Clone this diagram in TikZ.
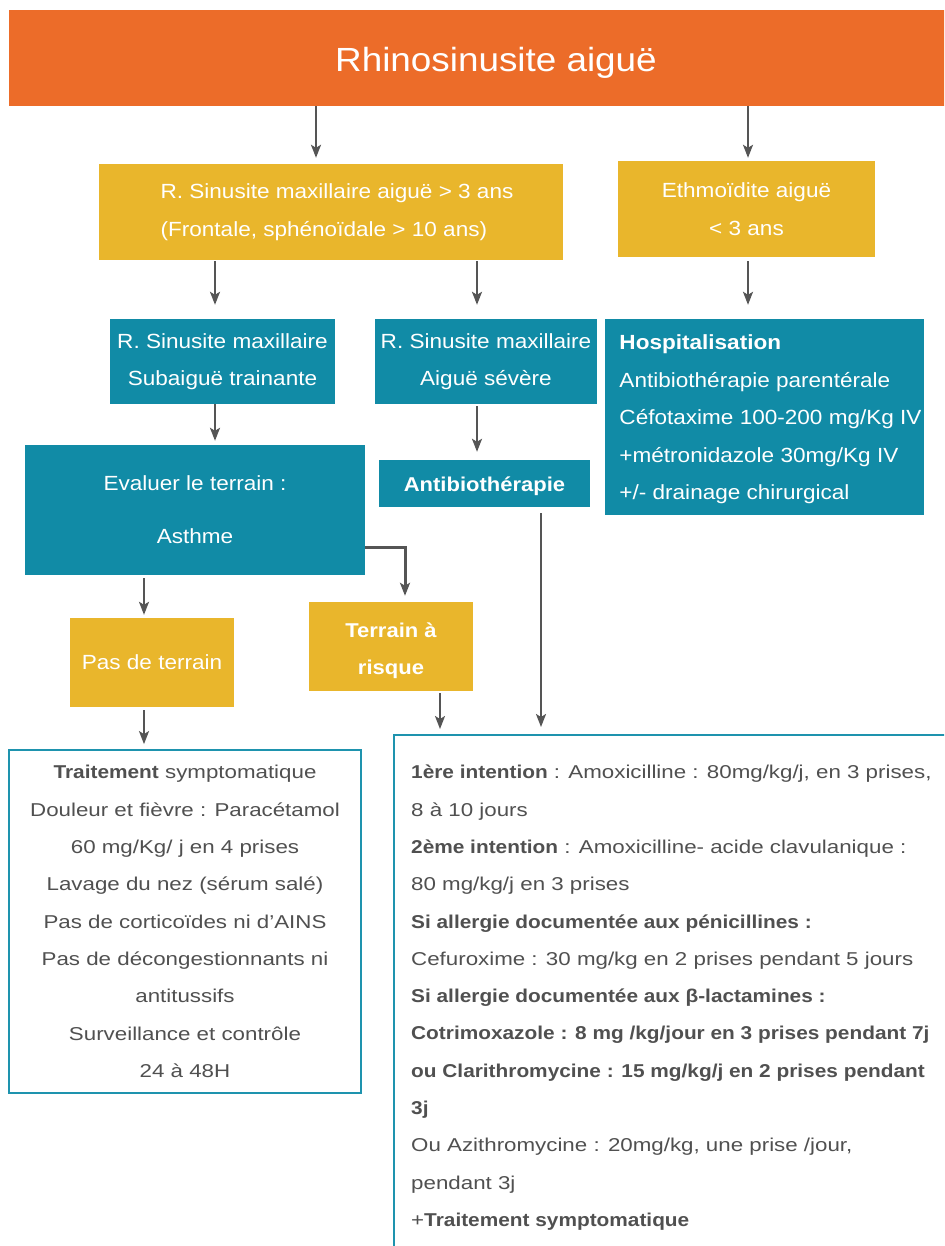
\documentclass[tikz,border=0pt]{standalone}
\usepackage{fontspec}
\setmainfont[FakeStretch=1.1]{Liberation Sans}
\newfontfamily\bodyfont[FakeStretch=1.2, BoldFeatures={FakeStretch=1.12}]{Liberation Sans}
\usetikzlibrary{arrows.meta,calc}

\definecolor{hdrorange}{HTML}{EC6C29}
\definecolor{boxyellow}{HTML}{E9B62C}
\definecolor{boxteal}{HTML}{118BA6}
\definecolor{linkgray}{HTML}{555555}
\definecolor{bodytext}{HTML}{505050}
\definecolor{frameteal}{HTML}{1E93AE}

\tikzset{
  upfont/.style={font=\fontsize{20.5}{37.5}\selectfont},
  yellowbox/.style={fill=boxyellow, text=white, inner sep=0pt, upfont},
  tealbox/.style={fill=boxteal, text=white, inner sep=0pt, upfont},
  boldtext/.style={font=\fontsize{20}{37}\selectfont\bfseries},
  link/.style={draw=linkgray, line width=2pt, -{Stealth[length=13pt,width=10pt,inset=3pt]}},
  framebox/.style={draw=frameteal, line width=1.8pt, fill=white, inner sep=0pt},
  bodyfont/.style={text=bodytext, font=\bodyfont\fontsize{18.6}{37.3}\selectfont},
}

\begin{document}
\begin{tikzpicture}[x=1pt,y=-1pt]
\useasboundingbox (0,0) rectangle (944,1246);
\fill[white] (0,0) rectangle (944,1246);
\clip (0,0) rectangle (944,1246);

% header
\node[fill=hdrorange, text=white, minimum width=974pt, minimum height=96pt, inner sep=0pt,
      font=\fontsize{33.5}{40}\selectfont] (title) at (496,58)
  {\raisebox{0pt}[28pt][0pt]{Rhinosinusite aiguë}};

% second row
\node[yellowbox, minimum width=464pt, minimum height=96pt, align=left] (maxi) at (331,212)
  {\hspace*{12pt}R. Sinusite maxillaire aiguë > 3 ans\\\hspace*{12pt}(Frontale, sphénoïdale > 10 ans)};
\node[yellowbox, minimum width=257pt, minimum height=96pt, align=center] (ethmo) at (746.5,209)
  {Ethmoïdite aiguë\\< 3 ans};

% third row
\node[tealbox, minimum width=225pt, minimum height=85pt, align=center] (subaig) at (222.5,361.5)
  {R. Sinusite maxillaire\\Subaiguë trainante};
\node[tealbox, minimum width=222pt, minimum height=85pt, align=center] (severe) at (486,361.5)
  {R. Sinusite maxillaire\\Aiguë sévère};
\node[tealbox, minimum width=319pt, minimum height=196pt, align=left] (hosp) at (764.5,417)
  {\raisebox{0pt}[20pt][0pt]{\hspace*{12pt}\textbf{Hospitalisation}}\\
   \hspace*{12pt}Antibiothérapie parentérale\\
   \hspace*{12pt}Céfotaxime 100-200 mg/Kg IV\\
   \hspace*{12pt}+métronidazole 30mg/Kg IV\\
   \hspace*{12pt}+/- drainage chirurgical};

% fourth row
\node[tealbox, minimum width=340pt, minimum height=130pt, align=center] (terrain) at (195,510)
  {Evaluer le terrain :\\[15.5pt]Asthme};
\node[tealbox, boldtext, minimum width=211pt, minimum height=47pt] (antibio) at (484.5,483.5)
  {\raisebox{0pt}[16pt][0pt]{Antibiothérapie}};

% fifth row
\node[yellowbox, boldtext, minimum width=164pt, minimum height=89pt, align=center] (risque) at (391,646.5)
  {\raisebox{0pt}[23pt][0pt]{Terrain à}\\risque};
\node[yellowbox, minimum width=164pt, minimum height=89pt] (pas) at (152,662.5)
  {Pas de terrain};

% treatment boxes
\node[framebox, bodyfont, minimum width=352pt, minimum height=343pt, align=center] (symp) at (185,921.5)
  {\textbf{Traitement} symptomatique\\
   Douleur et fièvre : Paracétamol\\
   60 mg/Kg/ j en 4 prises\\
   Lavage du nez (sérum salé)\\
   Pas de corticoïdes ni d’AINS\\
   Pas de décongestionnants ni\\
   antitussifs\\
   Surveillance et contrôle\\
   24 à 48H};

\node[framebox, anchor=north west, minimum width=580pt, minimum height=540pt] (treat) at (393,734) {};
\node[bodyfont, anchor=north west, inner sep=0pt, align=left] (treatlist) at (411,765)
  {\textbf{1ère intention} : Amoxicilline : 80mg/kg/j, en 3 prises,\\
   8 à 10 jours\\
   \textbf{2ème intention} : Amoxicilline- acide clavulanique :\\
   80 mg/kg/j en 3 prises\\
   \textbf{Si allergie documentée aux pénicillines :}\\
   Cefuroxime : 30 mg/kg en 2 prises pendant 5 jours\\
   \textbf{Si allergie documentée aux β-lactamines :}\\
   \textbf{Cotrimoxazole : 8 mg /kg/jour en 3 prises pendant 7j}\\
   \textbf{ou Clarithromycine : 15 mg/kg/j en 2 prises pendant}\\
   \textbf{3j}\\
   Ou Azithromycine : 20mg/kg, une prise /jour,\\
   pendant 3j\\
   +\textbf{Traitement symptomatique}};

% connector columns
\coordinate (xA) at (316,0);
\coordinate (xE) at (748,0);
\coordinate (xB) at (215,0);
\coordinate (xC) at (477,0);
\coordinate (xD) at (144,0);
\coordinate (xR) at (405,0);
\coordinate (yR) at (0,547);
\coordinate (xT) at (440,0);
\coordinate (xL) at (541,0);

% connectors
\draw[link, shorten >=6pt] (title.south -| xA) -- (maxi.north -| xA);
\draw[link, shorten >=3pt] (title.south -| xE) -- (ethmo.north -| xE);
\draw[link, shorten <=1pt, shorten >=14pt] (maxi.south -| xB) -- (subaig.north -| xB);
\draw[link, shorten <=1pt, shorten >=14pt] (maxi.south -| xC) -- (severe.north -| xC);
\draw[link, shorten <=4pt, shorten >=14pt] (ethmo.south -| xE) -- (hosp.north -| xE);
\draw[link, shorten >=4pt] (subaig.south -| xB) -- (terrain.north -| xB);
\draw[link, shorten <=2pt, shorten >=8pt] (severe.south -| xC) -- (antibio.north -| xC);
\draw[link, shorten <=3pt, shorten >=3pt] (terrain.south -| xD) -- (pas.north -| xD);
\draw[link, line width=3pt, shorten >=6pt] (terrain.east |- yR) -| (risque.north -| xR);
\draw[link, shorten <=3pt, shorten >=5pt] (pas.south -| xD) -- (symp.north -| xD);
\draw[link, shorten <=2pt, shorten >=5pt] (risque.south -| xT) -- (treat.north -| xT);
\draw[link, shorten <=6pt, shorten >=7pt] (antibio.south -| xL) -- (treat.north -| xL);
\end{tikzpicture}
\end{document}
